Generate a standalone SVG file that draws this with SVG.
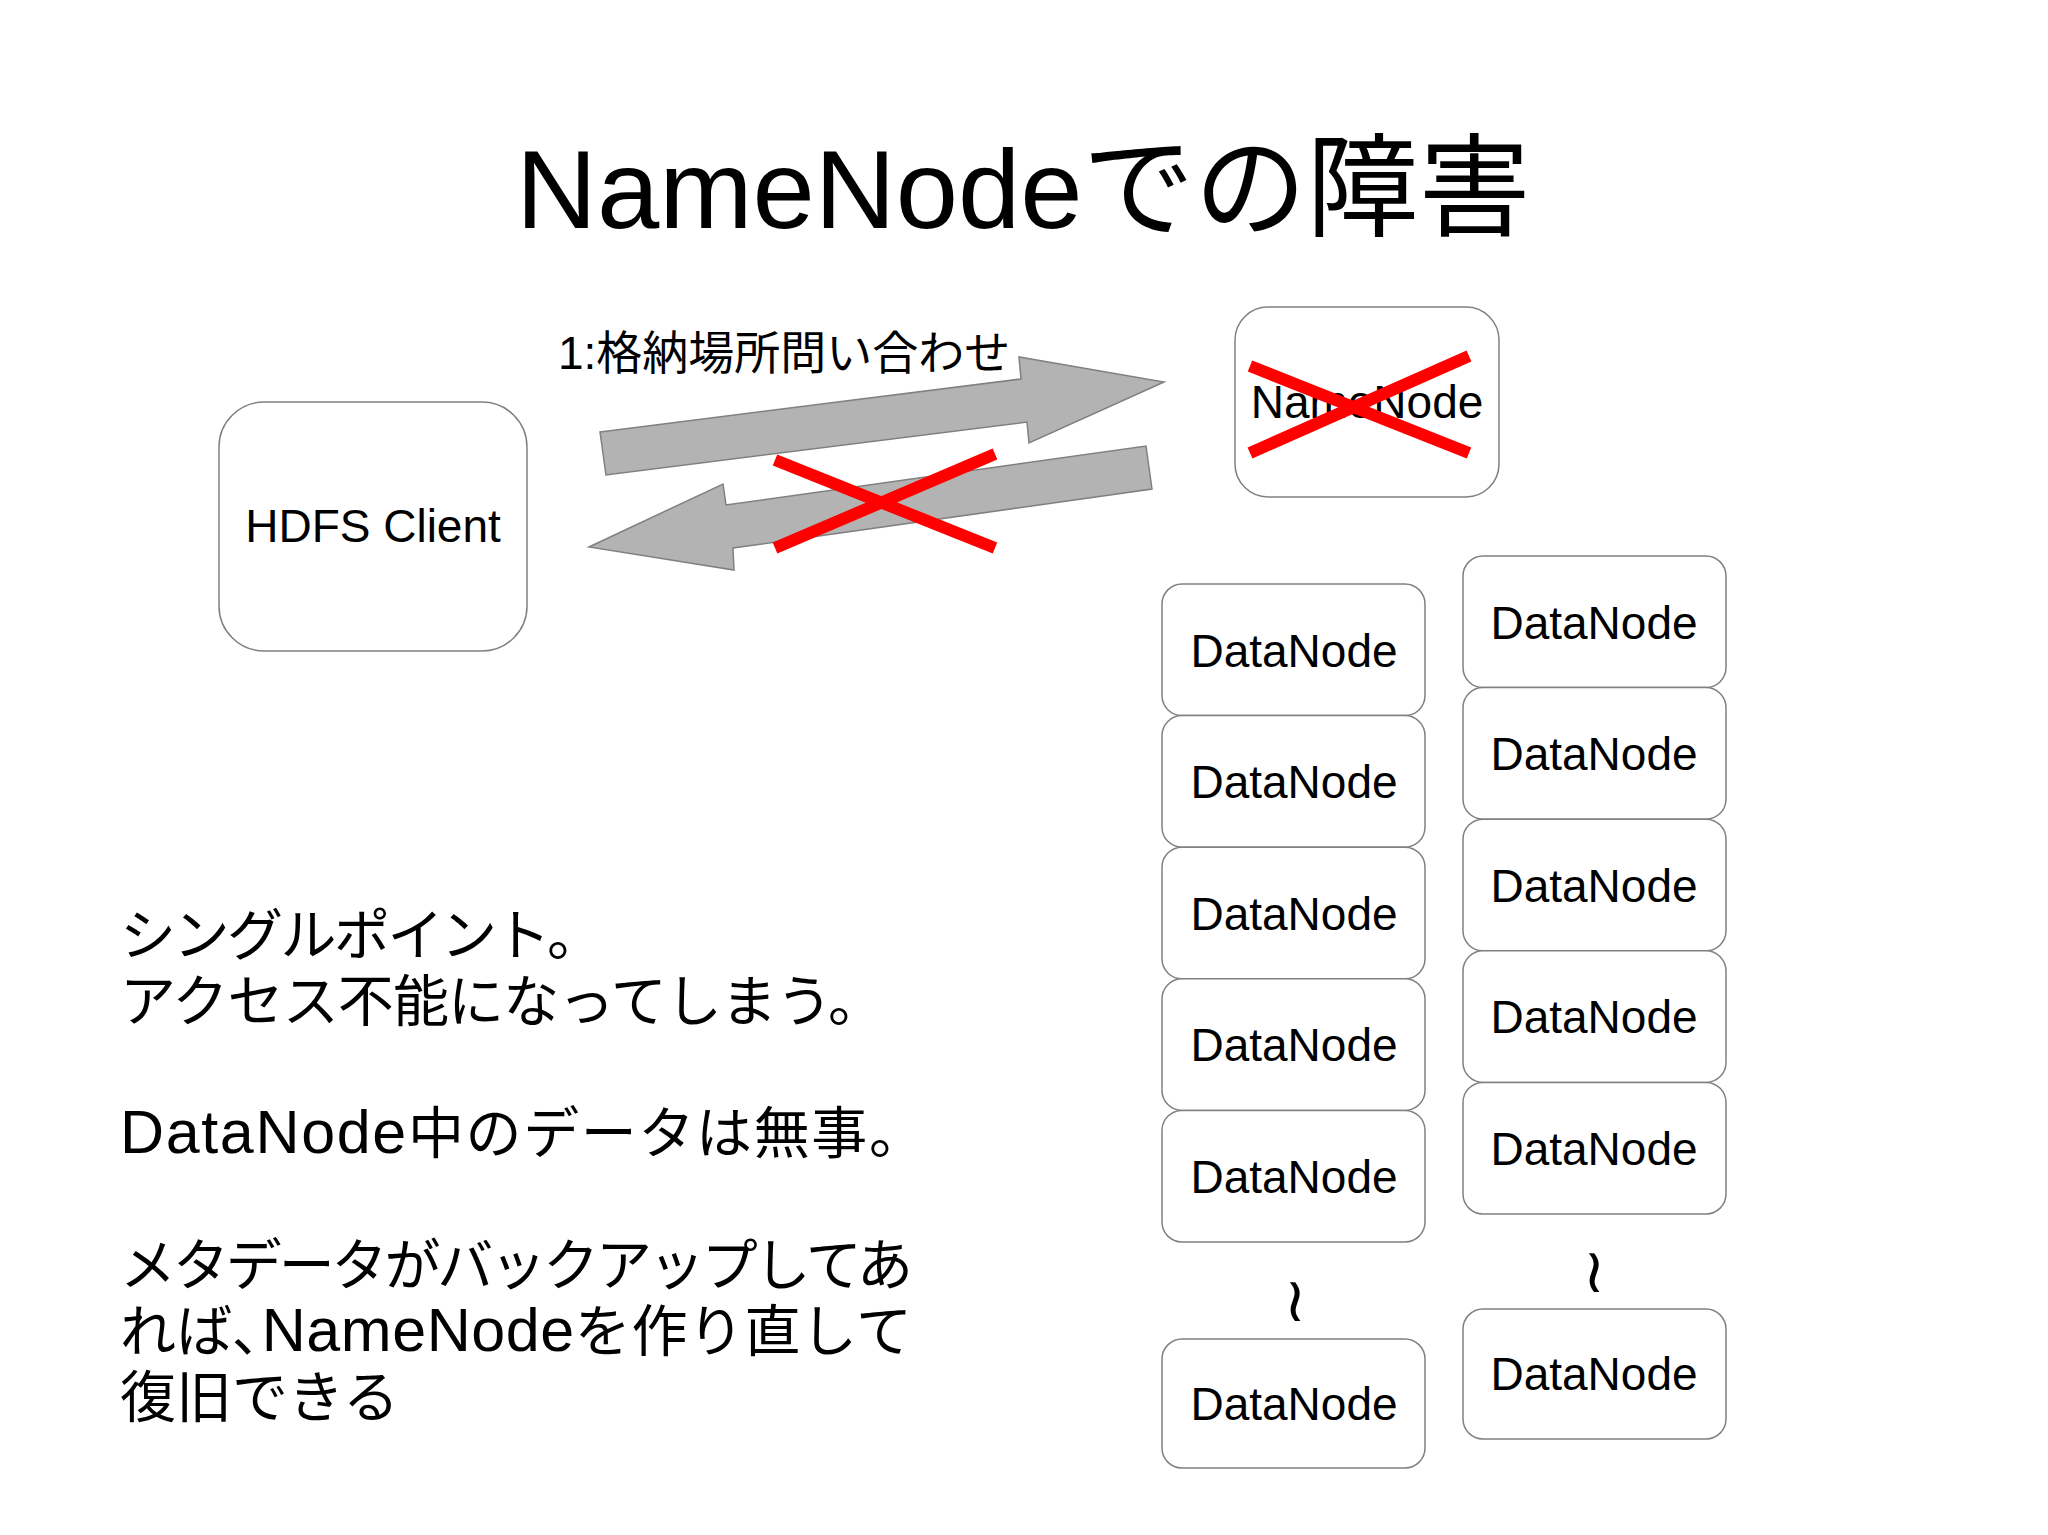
<svg xmlns="http://www.w3.org/2000/svg" width="2048" height="1535" viewBox="0 0 2048 1535">
  <style>
    .box { fill: #ffffff; stroke: #808080; stroke-width: 1.5; }
    .arrow { fill: #b3b3b3; stroke: #808080; stroke-width: 1.5; stroke-linejoin: miter; }
    .cross { stroke: #ff0000; stroke-width: 12; stroke-linecap: butt; fill: none; }
    .t { font-family: "Liberation Sans", "Noto Sans CJK JP", sans-serif; fill: #000000; }
    .lbl { font-family: "Liberation Sans", "Noto Sans CJK JP", sans-serif; font-size: 46px; text-anchor: middle; fill: #000000; }
    .body { font-family: "Liberation Sans", "Noto Sans CJK JP", sans-serif; font-size: 56px; fill: #000000; }
    .lat { font-size: 61px; }
    .wave { font-family: "DejaVu Sans", sans-serif; font-size: 62px; text-anchor: middle; fill: #000000; }
  </style>
  <rect x="0" y="0" width="2048" height="1535" fill="#ffffff"/>

  <g id="title">
    <text class="t" x="516" y="228" font-size="112">NameNodeでの障害</text>
  </g>

  <g id="connectors">
    <polygon class="arrow" points="600,432 1021,379 1019,357 1164,382 1029,443 1027,422 606,475"/>
    <polygon class="arrow" points="1146,446 1152,489 733,548 734,570 589,547 723,484 726,505"/>
    <text class="t" x="558" y="369" font-size="46">1:格納場所問い合わせ</text>
    <line class="cross" x1="775" y1="460" x2="995" y2="548"/>
    <line class="cross" x1="775" y1="548" x2="995" y2="454"/>
  </g>

  <g id="hdfs-client">
    <rect class="box" x="219" y="402" width="308" height="249" rx="45" ry="45"/>
    <text class="lbl" x="373" y="542">HDFS Client</text>
  </g>

  <g id="namenode">
    <rect class="box" x="1235" y="307" width="264" height="190" rx="33" ry="33"/>
    <text class="lbl" x="1367" y="418">NameNode</text>
    <line class="cross" x1="1250" y1="366" x2="1469" y2="453"/>
    <line class="cross" x1="1250" y1="453" x2="1469" y2="356"/>
  </g>

  <g id="datanode-l1"><rect class="box" x="1162" y="584" width="263" height="131.6" rx="20"/><text class="lbl" x="1294" y="666.5">DataNode</text></g>
  <g id="datanode-l2"><rect class="box" x="1162" y="715.6" width="263" height="131.6" rx="20"/><text class="lbl" x="1294" y="798">DataNode</text></g>
  <g id="datanode-l3"><rect class="box" x="1162" y="847.2" width="263" height="131.6" rx="20"/><text class="lbl" x="1294" y="929.7">DataNode</text></g>
  <g id="datanode-l4"><rect class="box" x="1162" y="978.8" width="263" height="131.6" rx="20"/><text class="lbl" x="1294" y="1061.3">DataNode</text></g>
  <g id="datanode-l5"><rect class="box" x="1162" y="1110.4" width="263" height="131.6" rx="20"/><text class="lbl" x="1294" y="1193">DataNode</text></g>
  <g id="datanode-l6"><rect class="box" x="1162" y="1339" width="263" height="129" rx="20"/><text class="lbl" x="1294" y="1419.5">DataNode</text></g>

  <g id="datanode-r1"><rect class="box" x="1463" y="556" width="263" height="131.6" rx="20"/><text class="lbl" x="1594" y="638.5">DataNode</text></g>
  <g id="datanode-r2"><rect class="box" x="1463" y="687.6" width="263" height="131.6" rx="20"/><text class="lbl" x="1594" y="770">DataNode</text></g>
  <g id="datanode-r3"><rect class="box" x="1463" y="819.2" width="263" height="131.6" rx="20"/><text class="lbl" x="1594" y="901.7">DataNode</text></g>
  <g id="datanode-r4"><rect class="box" x="1463" y="950.8" width="263" height="131.6" rx="20"/><text class="lbl" x="1594" y="1033.3">DataNode</text></g>
  <g id="datanode-r5"><rect class="box" x="1463" y="1082.4" width="263" height="131.6" rx="20"/><text class="lbl" x="1594" y="1165">DataNode</text></g>
  <g id="datanode-r6"><rect class="box" x="1463" y="1309" width="263" height="130" rx="20"/><text class="lbl" x="1594" y="1390">DataNode</text></g>

  <g id="ellipsis">
    <text class="wave" x="1295" y="1321">≀</text>
    <text class="wave" x="1594" y="1292">≀</text>
  </g>

  <g id="notes">
    <text class="body" x="120" y="955" textLength="483" lengthAdjust="spacing">シングルポイント。</text>
    <text class="body" x="120" y="1021" textLength="764" lengthAdjust="spacing">アクセス不能になってしまう。</text>
    <text class="body" x="120" y="1153" textLength="805" lengthAdjust="spacing"><tspan class="lat">DataNode</tspan>中のデータは無事。</text>
    <text class="body" x="120" y="1285" textLength="793" lengthAdjust="spacing">メタデータがバックアップしてあ</text>
    <text class="body" x="120" y="1351" textLength="792" lengthAdjust="spacing">れば､<tspan class="lat">NameNode</tspan>を作り直して</text>
    <text class="body" x="120" y="1417">復旧できる</text>
  </g>
</svg>
